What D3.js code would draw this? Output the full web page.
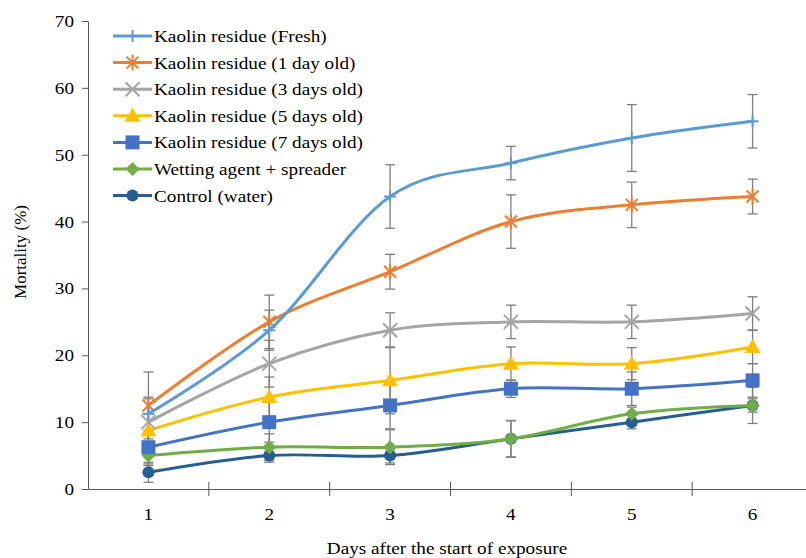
<!DOCTYPE html>
<html>
<head>
<meta charset="utf-8">
<script src="https://cdn.jsdelivr.net/npm/d3@7"></script>
<style>
	body { margin: 0; background: #fff; }
	text { font-family: "Liberation Serif", "Times New Roman", serif; fill: #000; }
</style>
</head>
<body>
<div id="chart"></div>
<script>
// Days on the x axis
var days = ["1", "2", "3", "4", "5", "6"];
var yTicks = [0, 10, 20, 30, 40, 50, 60, 70];

var seriesNames = [
	"Kaolin residue (Fresh)",
	"Kaolin residue (1 day old)",
	"Kaolin residue (3 days old)",
	"Kaolin residue (5 days old)",
	"Kaolin residue (7 days old)",
	"Wetting agent + spreader",
	"Control (water)"
];

// Mean mortality (%) per series, per day
var fresh      = [11.25, 23.75, 43.75, 48.75, 52.5, 55];
var oneDay     = [12.5, 25, 32.5, 40, 42.5, 43.75];
var threeDays  = [10, 18.75, 23.75, 25, 25, 26.25];
var fiveDays   = [8.75, 13.75, 16.25, 18.75, 18.75, 21.25];
var sevenDays  = [6.25, 10, 12.5, 15, 15, 16.25];
var wetting    = [5, 6.25, 6.25, 7.5, 11.25, 12.5];
var control    = [2.5, 5, 5, 7.5, 10, 12.5];

// Error (±) per series, per day
var freshErr     = [2.5, 3, 4.75, 2.5, 5, 4];
var oneDayErr    = [5, 4, 2.6, 4, 3.4, 2.6];
var threeDaysErr = [3.5, 3.5, 2.6, 2.5, 2.5, 2.5];
var fiveDaysErr  = [2.5, 3, 5, 2.5, 2.4, 2.5];
var sevenDaysErr = [2.5, 3, 3.5, 1.3, 2.5, 2.5];
var wettingErr   = [1.5, 2, 2.6, 2.7, 1, 1];
var controlErr   = [1.5, 1, 1.1, 2.75, 1, 2.7];

var colors = ["#5B9BD5", "#ED7D31", "#A5A5A5", "#FFC000", "#4472C4", "#70AD47", "#255E91"];
var markers = ["plus", "asterisk", "cross", "triangle", "square", "diamond", "circle"];

var allValues = [fresh, oneDay, threeDays, fiveDays, sevenDays, wetting, control];
var allErrors = [freshErr, oneDayErr, threeDaysErr, fiveDaysErr, sevenDaysErr, wettingErr, controlErr];

var width = 806, height = 558;
var stretch = 1.13; // the reference text is a bit wider than plain Times
var svg = d3.select("#chart").append("svg")
	.attr("width", width)
	.attr("height", height);

var x = d3.scaleBand().domain(days).range([88, 813]).padding(0);
var y = d3.scaleLinear().domain([0, 70]).range([489, 21]);
var axisColor = "#595959";

// Y axis
var yAxis = svg.append("g")
	.attr("transform", "translate(88,0)")
	.call(d3.axisLeft(y).tickValues(yTicks).tickSizeInner(6).tickSizeOuter(0).tickPadding(9));
yAxis.select(".domain").attr("stroke", axisColor);
yAxis.selectAll(".tick line").attr("stroke", axisColor);
yAxis.selectAll(".tick text")
	.attr("font-size", 17)
	.attr("x", 0)
	.attr("transform", "translate(-14,0) scale(" + stretch + ",1)");

// X axis (labels centred, ticks between categories)
var xAxis = svg.append("g")
	.attr("transform", "translate(0,489)")
	.call(d3.axisBottom(x).tickSize(0).tickPadding(19));
xAxis.select(".domain").attr("stroke", axisColor);
xAxis.selectAll(".tick text")
	.attr("font-size", 17)
	.attr("transform", "scale(" + stretch + ",1)");
svg.append("g").selectAll("line")
	.data(days.slice(0, days.length - 1))
	.join("line")
	.attr("x1", function(d){ return x(d) + x.bandwidth(); })
	.attr("x2", function(d){ return x(d) + x.bandwidth(); })
	.attr("y1", 482)
	.attr("y2", 496)
	.attr("stroke", axisColor);

// Axis titles
svg.append("text")
	.attr("transform", "translate(26,252) rotate(-90)")
	.attr("text-anchor", "middle")
	.attr("font-size", 17)
	.text("Mortality (%)");
svg.append("text")
	.attr("transform", "translate(447,554) scale(" + stretch + ",1)")
	.attr("text-anchor", "middle")
	.attr("font-size", 17)
	.text("Days after the start of exposure");

function cx(i){ return x(days[i]) + x.bandwidth() / 2; }

// Error bars
var errG = svg.append("g");
allValues.forEach(function(vals, s){
	vals.forEach(function(v, i){
		var e = allErrors[s][i];
		var g = errG.append("g").attr("stroke", "#7F7F7F").attr("stroke-width", 1.3);
		g.append("line").attr("x1", cx(i)).attr("x2", cx(i)).attr("y1", y(v - e)).attr("y2", y(v + e));
		g.append("line").attr("x1", cx(i) - 5).attr("x2", cx(i) + 5).attr("y1", y(v - e)).attr("y2", y(v - e));
		g.append("line").attr("x1", cx(i) - 5).attr("x2", cx(i) + 5).attr("y1", y(v + e)).attr("y2", y(v + e));
	});
});

// Lines (smoothed like the spreadsheet)
var line = d3.line()
	.x(function(d, i){ return cx(i); })
	.y(function(d){ return y(d); })
	.curve(d3.curveCardinal.tension(0));

// Draw a marker of given type centered at (px,py)
function drawMarker(g, type, px, py, color) {
	var m = g.append("g").attr("transform", "translate(" + px + "," + py + ")");
	if (type === "plus") {
		m.append("path").attr("d", "M-6,0H6M0,-6V6").attr("stroke", color).attr("stroke-width", 2);
	} else if (type === "asterisk") {
		m.append("path").attr("d", "M-6,-6L6,6M-6,6L6,-6M0,-8V8").attr("stroke", color).attr("stroke-width", 2);
	} else if (type === "cross") {
		m.append("path").attr("d", "M-7,-7L7,7M-7,7L7,-7").attr("stroke", color).attr("stroke-width", 2);
	} else if (type === "triangle") {
		m.append("path").attr("d", "M0,-8L8,6H-8Z").attr("fill", color);
	} else if (type === "square") {
		m.append("rect").attr("x", -7).attr("y", -7).attr("width", 14).attr("height", 14).attr("fill", color);
	} else if (type === "diamond") {
		m.append("path").attr("d", "M0,-7L7,0L0,7L-7,0Z").attr("fill", color);
	} else if (type === "circle") {
		m.append("circle").attr("r", 6).attr("fill", color);
	}
}

var seriesG = svg.append("g");
for (var s = allValues.length - 1; s >= 0; s--) {
	seriesG.append("path")
		.datum(allValues[s])
		.attr("d", line)
		.attr("fill", "none")
		.attr("stroke", colors[s])
		.attr("stroke-width", 3)
		.attr("stroke-linecap", "round");
	for (var i = 0; i < allValues[s].length; i++) {
		drawMarker(seriesG, markers[s], cx(i), y(allValues[s][i]), colors[s]);
	}
}

// Legend
var legend = svg.append("g");
seriesNames.forEach(function(name, k){
	var ly = 36 + k * 26.6;
	legend.append("line")
		.attr("x1", 113).attr("x2", 152)
		.attr("y1", ly).attr("y2", ly)
		.attr("stroke", colors[k]).attr("stroke-width", 3);
	drawMarker(legend, markers[k], 132.5, ly, colors[k]);
	legend.append("text")
		.attr("transform", "translate(154," + (ly + 6) + ") scale(" + stretch + ",1)")
		.attr("font-size", 17)
		.text(name);
});
</script>
</body>
</html>
